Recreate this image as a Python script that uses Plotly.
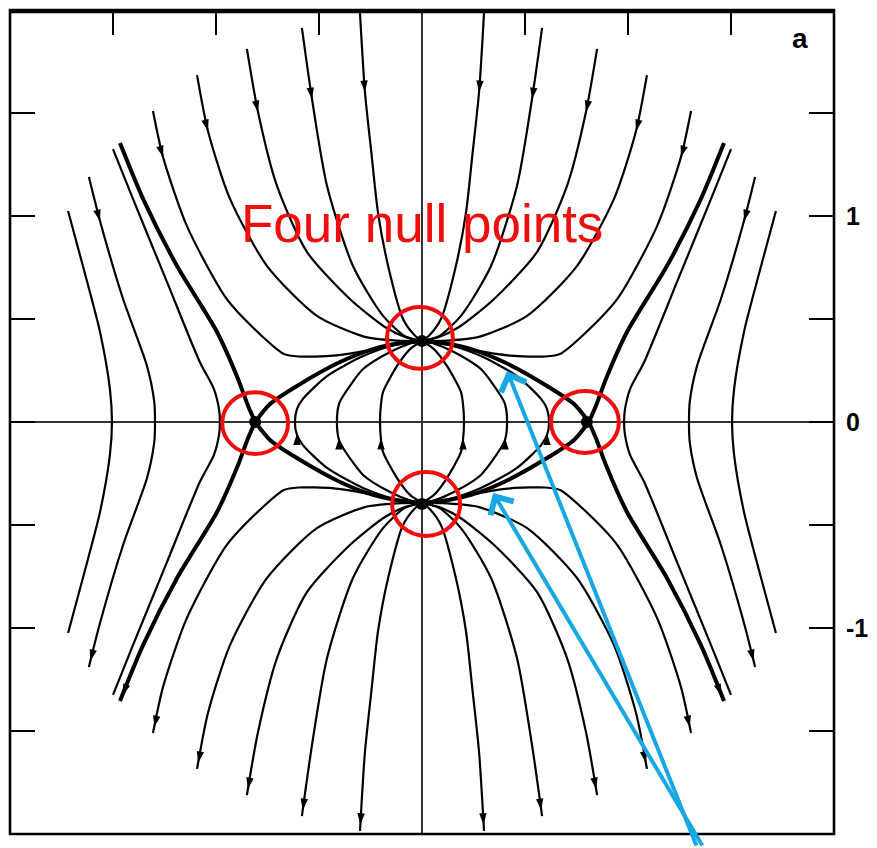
import math
import plotly.graph_objects as go

# ---------------- data (upper-left quadrant, data units); figure is mirror-symmetric ----------------
# field lines running from the outer boundary into the upper null point
lineA_x = [-0.301, -0.277, -0.245, -0.214, -0.165, -0.092, -0.035, 0.0]
lineA_y = [1.985, 1.602, 1.300, 1.019, 0.760, 0.500, 0.420, 0.393]
lineB_x = [-0.583, -0.534, -0.461, -0.335, -0.189, -0.083, 0.0]
lineB_y = [1.913, 1.568, 1.146, 0.757, 0.515, 0.417, 0.393]
lineC_x = [-0.850, -0.796, -0.704, -0.558, -0.350, -0.180, -0.080, 0.0]
lineC_y = [1.811, 1.505, 1.146, 0.825, 0.597, 0.461, 0.412, 0.393]
lineD_x = [-1.092, -1.039, -0.932, -0.752, -0.510, -0.277, -0.120, 0.0]
lineD_y = [1.684, 1.413, 1.083, 0.757, 0.515, 0.413, 0.395, 0.393]
lineE_x = [-1.306, -1.257, -1.141, -0.950, -0.780, -0.670, -0.600, -0.430, -0.250, -0.100, 0.0]
lineE_y = [1.510, 1.286, 0.951, 0.600, 0.420, 0.330, 0.318, 0.322, 0.350, 0.385, 0.393]
# separatrix from the outer boundary into the side null point
sepF_x = [-1.466, -1.354, -1.189, -0.995, -0.893, -0.845, -0.810]
sepF_y = [1.354, 1.083, 0.757, 0.437, 0.209, 0.080, 0.0]
# separatrix joining the side null to the upper null
sepS_x = [-0.810, -0.738, -0.607, -0.398, -0.238, -0.107, 0.0]
sepS_y = [0.0, 0.087, 0.175, 0.291, 0.354, 0.382, 0.393]
# lines passing outside the side null (upper half, ending on the midline)
lineG_x = [-1.500, -1.403, -1.238, -1.078, -1.010, -0.985, -0.981]
lineG_y = [1.325, 1.083, 0.680, 0.290, 0.160, 0.060, 0.0]
lineH_x = [-1.617, -1.563, -1.451, -1.335, -1.300, -1.296]
lineH_y = [1.189, 0.976, 0.597, 0.272, 0.100, 0.0]
lineI_x = [-1.718, -1.646, -1.563, -1.515, -1.505]
lineI_y = [1.024, 0.757, 0.437, 0.160, 0.0]
# arcs inside the "eye" (upper half, from the midline to the upper null)
arc1_x = [-0.617, -0.607, -0.578, -0.461, -0.286, -0.131, 0.0]
arc1_y = [0.0, 0.063, 0.112, 0.223, 0.320, 0.374, 0.393]
arc2_x = [-0.413, -0.403, -0.383, -0.286, -0.155, -0.060, 0.0]
arc2_y = [0.0, 0.087, 0.126, 0.257, 0.340, 0.380, 0.393]
arc3_x = [-0.204, -0.199, -0.189, -0.121, -0.058, 0.0]
arc3_y = [0.0, 0.087, 0.146, 0.272, 0.354, 0.393]

# null points and the red circles drawn round them
null_x = [-0.810, 0.800, 0.0, 0.0]
null_y = [0.0, 0.0, 0.393, -0.398]
circle_cx = [-0.810, 0.791, -0.010, 0.020]
circle_cy = [-0.005, 0.0, 0.408, -0.398]
circle_rx = [0.160, 0.165, 0.160, 0.165]
circle_ry = [0.150, 0.150, 0.150, 0.155]

# blue pointer arrows (tips on the separators, tails below the frame)
pointer_tip_x = [0.413, 0.345]
pointer_tip_y = [0.248, -0.345]
pointer_tail_x = [1.335, 1.365]
pointer_tail_y = [-2.063, -2.063]

# axis ticks and labels
x_tickvals = [-1.5, -1.0, -0.5, 0.5, 1.0, 1.5]
y_tickvals = [-1.5, -1.0, -0.5, 0.0, 0.5, 1.0, 1.5]
y_ticktext = ["", "<b>-1</b>", "", "<b>0</b>", "", "<b>1</b>", ""]

title_text = "Four null points"
panel_label = "a"

# ---------------- build figure ----------------
fig = go.Figure()
arrow_x, arrow_y, arrow_ang = [], [], []


def add_line(xs, ys, width):
    fig.add_trace(go.Scatter(x=xs, y=ys, mode="lines", hoverinfo="skip",
                             line=dict(color="black", width=width, shape="spline", smoothing=0.7)))


def add_arrow(px, py, dx, dy, back=0.0):
    n = math.hypot(dx, dy)
    ux, uy = dx / n, dy / n
    arrow_x.append(px - back * ux)
    arrow_y.append(py - back * uy)
    arrow_ang.append(math.degrees(math.atan2(ux, uy)))


to_null = [(lineA_x, lineA_y, True), (lineB_x, lineB_y, True), (lineC_x, lineC_y, True),
           (lineD_x, lineD_y, True), (lineE_x, lineE_y, True)]
crossing = [(lineG_x, lineG_y, 2.2, False), (lineH_x, lineH_y, 2.2, True), (lineI_x, lineI_y, 2.2, False)]
arcs = [(arc1_x, arc1_y), (arc2_x, arc2_y), (arc3_x, arc3_y)]

for sx in (1, -1):
    # lines into the upper null, and their mirrors leaving the lower null
    for xs, ys, arr in to_null:
        ux = [sx * v for v in xs]
        add_line(ux, ys, 2.2)
        lx = ux[::-1]
        ly = [-v for v in ys][::-1]
        add_line(lx, ly, 2.2)
        if arr:
            add_arrow(ux[1], ys[1], ux[2] - ux[0], ys[2] - ys[0])
            add_arrow(lx[-1], ly[-1], lx[-1] - lx[-2], ly[-1] - ly[-2], back=0.03)
    # separatrix F (thick)
    ux = [sx * v for v in sepF_x]
    add_line(ux, sepF_y, 4)
    lx = ux[::-1]
    ly = [-v for v in sepF_y][::-1]
    add_line(lx, ly, 4)
    add_arrow(lx[-1], ly[-1], lx[-1] - lx[-2], ly[-1] - ly[-2], back=0.03)
    # separatrices bounding the eye (thick)
    ux = [sx * v for v in sepS_x]
    add_line(ux, sepS_y, 4)
    add_line(ux, [-v for v in sepS_y], 4)
    # lines outside the side nulls, crossing the midline
    for xs, ys, w, arr in crossing:
        ux = [sx * v for v in xs]
        fx = ux + ux[-2::-1]
        fy = list(ys) + [-v for v in ys][-2::-1]
        add_line(fx, fy, w)
        if arr:
            add_arrow(ux[1], ys[1], ux[2] - ux[0], ys[2] - ys[0])
            add_arrow(fx[-1], fy[-1], fx[-1] - fx[-2], fy[-1] - fy[-2], back=0.03)
    # arcs inside the eye, from the lower null up to the upper null
    for xs, ys in arcs:
        ux = [sx * v for v in xs]
        fx = ux[:0:-1] + ux
        fy = [-v for v in ys][:0:-1] + list(ys)
        add_line(fx, fy, 2.2)
        add_arrow(ux[1], -ys[1] * 0.9, 0.0, 1.0)

# arrowheads
fig.add_trace(go.Scatter(x=arrow_x, y=arrow_y, mode="markers", hoverinfo="skip",
                         marker=dict(symbol="arrow", size=12, color="black", angle=arrow_ang,
                                     line=dict(width=0))))
# null points
fig.add_trace(go.Scatter(x=null_x, y=null_y, mode="markers", hoverinfo="skip",
                         marker=dict(symbol="circle", size=12, color="black")))

# red circles
for cx, cy, rx, ry in zip(circle_cx, circle_cy, circle_rx, circle_ry):
    fig.add_shape(type="circle", xref="x", yref="y", x0=cx - rx, x1=cx + rx, y0=cy - ry, y1=cy + ry,
                  line=dict(color="#f20d0d", width=4), layer="above")

# frame round the plotting area (top edge drawn a touch lower so it stays in view)
fig.add_shape(type="rect", xref="paper", yref="paper", x0=0, x1=1, y0=0, y1=1,
              line=dict(color="black", width=2.6), layer="above")
fig.add_shape(type="line", xref="paper", yref="paper", x0=0, x1=1, y0=0.998, y1=0.998,
              line=dict(color="black", width=3.2), layer="above")

# text
fig.add_annotation(x=0.0, y=0.966, text=title_text, showarrow=False,
                   font=dict(family="Liberation Sans, Arial, sans-serif", size=53, color="#f20d0d"))
fig.add_annotation(x=1.835, y=1.864, text="<b>" + panel_label + "</b>", showarrow=False,
                   font=dict(family="Liberation Sans, Arial, sans-serif", size=28, color="black"))

# blue pointers
for tx, ty, ax_, ay_ in zip(pointer_tip_x, pointer_tip_y, pointer_tail_x, pointer_tail_y):
    fig.add_annotation(x=tx, y=ty, ax=ax_, ay=ay_, axref="x", ayref="y", xref="x", yref="y",
                       text="", showarrow=True, arrowhead=4, arrowsize=1.3, arrowwidth=4,
                       arrowcolor="#17a8e3", standoff=0)

# the page body adds an 8 px offset, so the figure is 8 px smaller and margins compensate
fig.update_layout(
    width=869, height=840,
    margin=dict(l=2, r=43, t=2, b=14, autoexpand=False),
    paper_bgcolor="white", plot_bgcolor="white",
    showlegend=False,
    xaxis=dict(range=[-2, 2], side="top", showline=False,
               ticks="inside", ticklen=25, tickwidth=2, tickcolor="black", tickvals=x_tickvals,
               showticklabels=False, showgrid=False, zeroline=True, zerolinecolor="#333333",
               zerolinewidth=1.5, fixedrange=True, automargin=False),
    yaxis=dict(range=[-2, 2], side="right", showline=False, mirror="ticks",
               ticks="inside", ticklen=25, tickwidth=2, tickcolor="black", tickvals=y_tickvals,
               ticktext=y_ticktext, ticklabelstandoff=11,
               tickfont=dict(family="Liberation Sans, Arial, sans-serif", size=25, color="black"),
               showgrid=False, zeroline=True, zerolinecolor="#333333", zerolinewidth=1.5,
               fixedrange=True, automargin=False),
)

fig.write_html("out.html")
